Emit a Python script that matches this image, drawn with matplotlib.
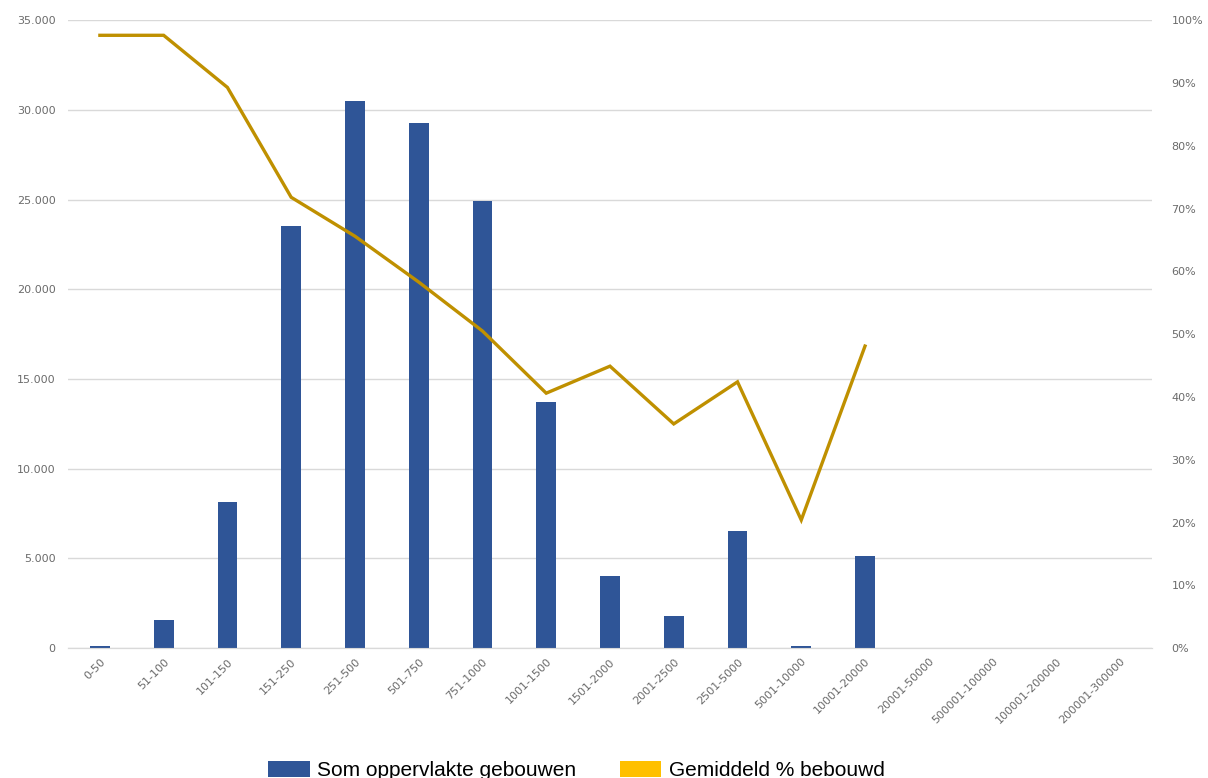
import numpy as np
import matplotlib as mpl
mpl.use('Agg')
import matplotlib.pyplot as plt
from matplotlib.patches import Patch
from matplotlib.ticker import FuncFormatter, MultipleLocator

categories = ['0-50', '51-100', '101-150', '151-250', '251-500', '501-750',
              '751-1000', '1001-1500', '1501-2000', '2001-2500', '2501-5000',
              '5001-10000', '10001-20000', '20001-50000', '500001-100000',
              '100001-200000', '200001-300000']
# Som oppervlakte gebouwen (m2)
oppervlakte = [100, 1560, 8140, 23520, 30490, 29260, 24920, 13710, 4010,
               1780, 6520, 100, 5130, 0, 0, 0, 0]
# Gemiddeld % bebouwd (fraction); no value for the largest classes
bebouwd = [0.976, 0.976, 0.893, 0.718, 0.656, 0.583, 0.505, 0.406, 0.449,
           0.357, 0.424, 0.204, 0.481, np.nan, np.nan, np.nan, np.nan]

BLUE = '#2F5597'
GOLD = '#BF9000'
YELLOW = '#FFC000'
GREY = '#6b6b6b'

fig = plt.figure(figsize=(12.08, 7.78), dpi=100)
ax = fig.add_axes([0.0563, 0.167, 0.8973, 0.807])
ax2 = ax.twinx()

x = np.arange(len(categories))
ax.bar(x, oppervlakte, width=0.31, color=BLUE, zorder=3)
ax2.plot(x, bebouwd, color=GOLD, lw=2.4, solid_joinstyle='miter', zorder=4)

ax.set_xlim(-0.5, len(categories) - 0.5)
ax.set_ylim(0, 35000)
ax2.set_ylim(0, 1.0)
ax.yaxis.set_major_locator(MultipleLocator(5000))
ax2.yaxis.set_major_locator(MultipleLocator(0.1))
ax.yaxis.set_major_formatter(FuncFormatter(lambda v, p: '{:,.0f}'.format(v).replace(',', '.')))
ax2.yaxis.set_major_formatter(FuncFormatter(lambda v, p: '{:.0f}%'.format(v * 100)))

ax.set_xticks(x)
ax.set_xticklabels(categories, rotation=45, ha='right', rotation_mode='anchor')

ax.grid(axis='y', color='#D9D9D9', lw=1.0, zorder=0)
ax.set_axisbelow(True)
ax.set_zorder(ax2.get_zorder() - 1)
ax2.patch.set_visible(False)
ax.patch.set_visible(True)

for a in (ax, ax2):
    for s in ('top', 'left', 'right'):
        a.spines[s].set_visible(False)
    a.spines['bottom'].set_color('#D9D9D9')
    a.tick_params(length=0, labelsize=8, labelcolor=GREY)
ax.tick_params(axis='y', pad=9)
ax2.tick_params(axis='y', pad=14)
ax.tick_params(axis='x', pad=6)

handles = [Patch(facecolor=BLUE, label='Som oppervlakte gebouwen'),
           Patch(facecolor=YELLOW, label='Gemiddeld % bebouwd')]
fig.legend(handles=handles, loc='center', bbox_to_anchor=(0.477, 0.01),
           ncol=2, frameon=False, handlelength=2.0, handleheight=0.8,
           handletextpad=0.35, columnspacing=2.1,
           prop={'family': ['Liberation Sans Narrow', 'Liberation Sans'], 'size': 15})

fig.savefig('out.png', dpi=100)
